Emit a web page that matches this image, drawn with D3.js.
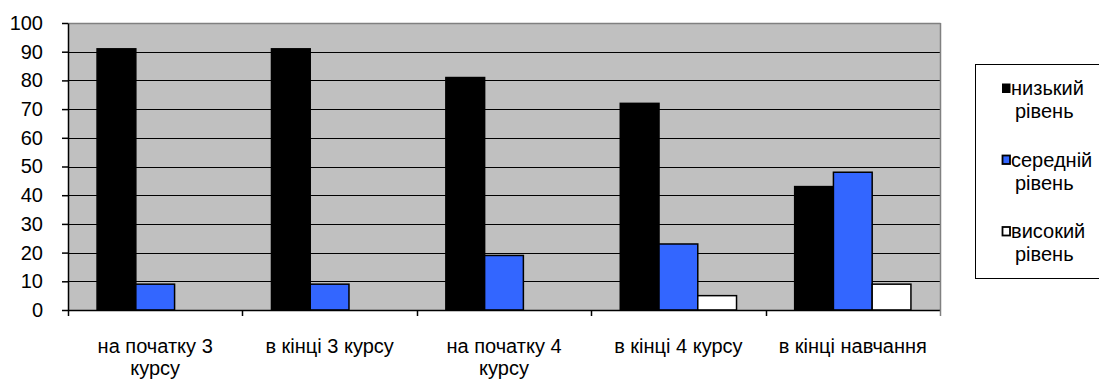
<!DOCTYPE html>
<html>
<head>
<meta charset="utf-8">
<script src="https://cdn.jsdelivr.net/npm/d3@7"></script>
<style>
html,body{margin:0;padding:0;background:#fff;}
svg{display:block;font-family:"Liberation Sans",Arial,sans-serif;}
</style>
</head>
<body>
<svg id="chart" width="1099" height="379"></svg>
<script>
const categories = ["на початку 3 курсу", "в кінці 3 курсу", "на початку 4 курсу", "в кінці 4 курсу", "в кінці навчання"];
const categoryLines = [["на початку 3", "курсу"], ["в кінці 3 курсу"], ["на початку 4", "курсу"], ["в кінці 4 курсу"], ["в кінці навчання"]];
const seriesNames = ["низький рівень", "середній рівень", "високий рівень"];
const legendLines = [["низький", "рівень"], ["середній", "рівень"], ["високий", "рівень"]];
const lowValues = [91, 91, 81, 72, 43];
const midValues = [9, 9, 19, 23, 48];
const highValues = [0, 0, 0, 5, 9];
const yTicks = [0, 10, 20, 30, 40, 50, 60, 70, 80, 90, 100];
const seriesColors = ["#000000", "#3366FF", "#FFFFFF"];

const svg = d3.select("#chart");
const L = 68, R = 940, T = 23, B = 310;
const FONT = 20;

const x = d3.scaleBand().domain(categories).range([L, R]).paddingInner(0).paddingOuter(0);
const xs = d3.scaleBand().domain(seriesNames).range([0, x.bandwidth()]).paddingInner(0).paddingOuter(0.75);
const y = d3.scaleLinear().domain([0, 100]).range([B, T]);

// plot area
svg.append("rect").attr("x", L).attr("y", T).attr("width", R - L).attr("height", B - T).attr("fill", "#C0C0C0");

// gridlines
svg.append("g").selectAll("line").data(yTicks.filter(v => v > 0 && v < 100)).join("line")
  .attr("x1", L).attr("x2", R)
  .attr("y1", d => Math.round(y(d)) + 0.5).attr("y2", d => Math.round(y(d)) + 0.5)
  .attr("stroke", "#000").attr("stroke-width", 1);

// top and right border
svg.append("line").attr("x1", L).attr("x2", R + 0.5).attr("y1", T + 0.5).attr("y2", T + 0.5).attr("stroke", "#808080").attr("stroke-width", 1.5);
svg.append("line").attr("x1", R + 0.5).attr("x2", R + 0.5).attr("y1", T).attr("y2", B).attr("stroke", "#808080").attr("stroke-width", 1.5);

// bars
const seriesData = [lowValues, midValues, highValues];
seriesData.forEach((vals, si) => {
  svg.append("g").selectAll("rect").data(vals.map((v, i) => ({v, c: categories[i]})).filter(d => d.v > 0)).join("rect")
    .attr("x", d => x(d.c) + xs(seriesNames[si]))
    .attr("y", d => y(d.v))
    .attr("width", xs.bandwidth())
    .attr("height", d => y(0) - y(d.v))
    .attr("fill", seriesColors[si])
    .attr("stroke", "#000").attr("stroke-width", 1.5);
});

// left axis
const yAxis = d3.axisLeft(y).tickValues(yTicks).tickSize(6).tickPadding(19).tickSizeOuter(0);
const gy = svg.append("g").attr("transform", `translate(${L},0)`).call(yAxis);
gy.select(".domain").attr("stroke", "#000").attr("stroke-width", 1.5);
gy.selectAll(".tick line").attr("stroke", "#000").attr("stroke-width", 1.5);
gy.selectAll(".tick text").attr("font-size", FONT).attr("font-family", "Liberation Sans, Arial, sans-serif").attr("fill", "#000");

// bottom axis line
svg.append("line").attr("x1", L).attr("x2", R).attr("y1", B + 0.5).attr("y2", B + 0.5).attr("stroke", "#000").attr("stroke-width", 1.5);
// boundary ticks
const bounds = categories.map(c => x(c)).concat([x(categories[categories.length - 1]) + x.bandwidth()]);
svg.append("g").selectAll("line").data(bounds).join("line")
  .attr("x1", d => Math.round(d) + 0.5).attr("x2", d => Math.round(d) + 0.5)
  .attr("y1", B).attr("y2", B + 6)
  .attr("stroke", (d, i) => i === bounds.length - 1 ? "#808080" : "#000").attr("stroke-width", 1.5);

// category labels
const lab = svg.append("g").selectAll("text").data(categories).join("text")
  .attr("x", d => x(d) + x.bandwidth() / 2)
  .attr("y", 353)
  .attr("text-anchor", "middle")
  .attr("font-size", FONT).attr("fill", "#000");
lab.each(function(d, i) {
  const t = d3.select(this);
  categoryLines[i].forEach((ln, j) => {
    t.append("tspan").attr("x", x(d) + x.bandwidth() / 2).attr("dy", j === 0 ? 0 : 22).text(ln);
  });
});

// legend
const lg = svg.append("g");
lg.append("rect").attr("x", 975.5).attr("y", 64.5).attr("width", 124).attr("height", 214)
  .attr("fill", "#fff").attr("stroke", "#000").attr("stroke-width", 1);
const legBase = [95, 166.5, 238];
seriesNames.forEach((s, i) => {
  lg.append("rect").attr("x", 1002.5).attr("y", legBase[i] - 11).attr("width", 7.5).attr("height", 8.5)
    .attr("fill", seriesColors[i]).attr("stroke", "#000").attr("stroke-width", i === 0 ? 1 : 1.8);
  lg.append("text").attr("x", 1011).attr("y", legBase[i]).attr("font-size", FONT).attr("fill", "#000").text(legendLines[i][0]);
  lg.append("text").attr("x", 1015).attr("y", legBase[i] + 23).attr("font-size", FONT).attr("fill", "#000").text(legendLines[i][1]);
});
</script>
</body>
</html>
